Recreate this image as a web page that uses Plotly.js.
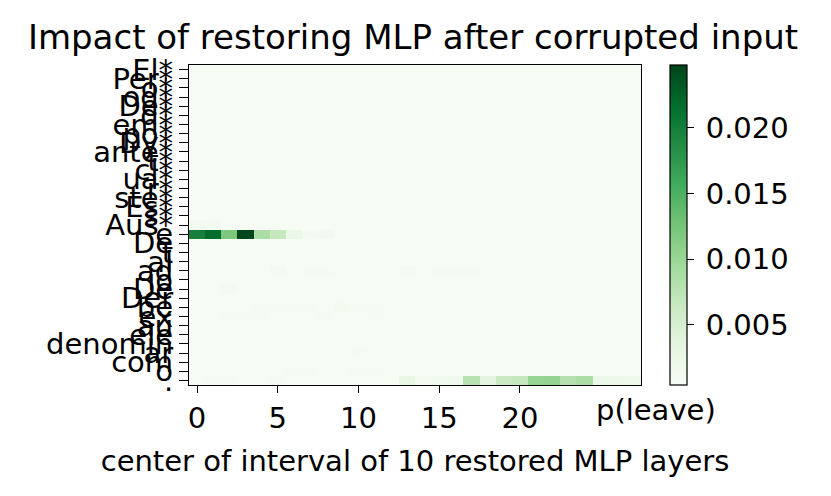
<!DOCTYPE html>
<html>
<head>
<meta charset="utf-8">
<script src="https://cdn.plot.ly/plotly-3.0.1.min.js"></script>
<style>
  body { margin: 0; background: #fff; }
  #chart { width: 831px; height: 496px; }
</style>
</head>
<body>
<div id="chart"></div>
<script>
// token labels, top to bottom (subject tokens carry a *)
const tokens = ['El*','Per*','o*','od*','De*','d*','em*','po*','Dy*','ante*','t*','cl*','ua*','r*','ste*','Es*','s*','Aus*',
  'e','De','t','al','ad','io','De','Der','be','ex','au','ele','denomin','ar','com','o','.'];
const layers = [0,1,2,3,4,5,6,7,8,9,10,11,12,13,14,15,16,17,18,19,20,21,22,23,24,25,26,27];
const cbTicks = [0.005, 0.010, 0.015, 0.020];
const cbLabels = ['0.005', '0.010', '0.015', '0.020'];

// p(leave) per token row and layer
const scores = [
  [.0005,.0005,.0005,.0005,.0005,.0005,.0005,.0005,.0005,.0005,.0005,.0005,.0005,.0005,.0005,.0005,.0005,.0005,.0005,.0005,.0005,.0005,.0005,.0005,.0005,.0005,.0005,.0005],
  [.0005,.0005,.0005,.0005,.0005,.0005,.0005,.0005,.0005,.0005,.0005,.0005,.0005,.0005,.0005,.0005,.0005,.0005,.0005,.0005,.0005,.0005,.0005,.0005,.0005,.0005,.0005,.0005],
  [.0005,.0005,.0005,.0005,.0005,.0005,.0005,.0005,.0005,.0005,.0005,.0005,.0005,.0005,.0005,.0005,.0005,.0005,.0005,.0005,.0005,.0005,.0005,.0005,.0005,.0005,.0005,.0005],
  [.0005,.0005,.0005,.0005,.0005,.0005,.0005,.0005,.0005,.0005,.0005,.0005,.0005,.0005,.0005,.0005,.0005,.0005,.0005,.0005,.0005,.0005,.0005,.0005,.0005,.0005,.0005,.0005],
  [.0005,.0005,.0005,.0005,.0005,.0005,.0005,.0005,.0005,.0005,.0005,.0005,.0005,.0005,.0005,.0005,.0005,.0005,.0005,.0005,.0005,.0005,.0005,.0005,.0005,.0005,.0005,.0005],
  [.0005,.0005,.0005,.0005,.0005,.0005,.0005,.0005,.0005,.0005,.0005,.0005,.0005,.0005,.0005,.0005,.0005,.0005,.0005,.0005,.0005,.0005,.0005,.0005,.0005,.0005,.0005,.0005],
  [.0005,.0005,.0005,.0005,.0005,.0005,.0005,.0005,.0005,.0005,.0005,.0005,.0005,.0005,.0005,.0005,.0005,.0005,.0005,.0005,.0005,.0005,.0005,.0005,.0005,.0005,.0005,.0005],
  [.0005,.0005,.0005,.0005,.0005,.0005,.0005,.0005,.0005,.0005,.0005,.0005,.0005,.0005,.0005,.0005,.0005,.0005,.0005,.0005,.0005,.0005,.0005,.0005,.0005,.0005,.0005,.0005],
  [.0005,.0005,.0005,.0005,.0005,.0005,.0005,.0005,.0005,.0005,.0005,.0005,.0005,.0005,.0005,.0005,.0005,.0005,.0005,.0005,.0005,.0005,.0005,.0005,.0005,.0005,.0005,.0005],
  [.0005,.0005,.0005,.0005,.0005,.0005,.0005,.0005,.0005,.0005,.0005,.0005,.0005,.0005,.0005,.0005,.0005,.0005,.0005,.0005,.0005,.0005,.0005,.0005,.0005,.0005,.0005,.0005],
  [.0005,.0005,.0005,.0005,.0005,.0005,.0005,.0005,.0005,.0005,.0005,.0005,.0005,.0005,.0005,.0005,.0005,.0005,.0005,.0005,.0005,.0005,.0005,.0005,.0005,.0005,.0005,.0005],
  [.0005,.0005,.0005,.0005,.0005,.0005,.0005,.0005,.0005,.0005,.0005,.0005,.0005,.0005,.0005,.0005,.0005,.0005,.0005,.0005,.0005,.0005,.0005,.0005,.0005,.0005,.0005,.0005],
  [.0005,.0005,.0005,.0005,.0005,.0005,.0005,.0005,.0005,.0005,.0005,.0005,.0005,.0005,.0005,.0005,.0005,.0005,.0005,.0005,.0005,.0005,.0005,.0005,.0005,.0005,.0005,.0005],
  [.0005,.0005,.0005,.0005,.0005,.0005,.0005,.0005,.0005,.0005,.0005,.0005,.0005,.0005,.0005,.0005,.0005,.0005,.0005,.0005,.0005,.0005,.0005,.0005,.0005,.0005,.0005,.0005],
  [.0005,.0005,.0005,.0005,.0005,.0005,.0005,.0005,.0005,.0005,.0005,.0005,.0005,.0005,.0005,.0005,.0005,.0005,.0005,.0005,.0005,.0005,.0005,.0005,.0005,.0005,.0005,.0005],
  [.0005,.0005,.0005,.0005,.0005,.0005,.0005,.0005,.0005,.0005,.0005,.0005,.0005,.0005,.0005,.0005,.0005,.0005,.0005,.0005,.0005,.0005,.0005,.0005,.0005,.0005,.0005,.0005],
  [.0005,.0005,.0005,.0005,.0005,.0005,.0005,.0005,.0005,.0005,.0005,.0005,.0005,.0005,.0005,.0005,.0005,.0005,.0005,.0005,.0005,.0005,.0005,.0005,.0005,.0005,.0005,.0005],
  [.0012,.0010,.0006,.0005,.0005,.0005,.0005,.0005,.0005,.0005,.0005,.0005,.0005,.0005,.0005,.0005,.0005,.0005,.0005,.0005,.0005,.0005,.0005,.0005,.0005,.0005,.0005,.0005],
  [.0199,.0216,.0120,.0246,.0087,.0067,.0024,.0010,.0012,.0006,.0005,.0005,.0005,.0005,.0005,.0005,.0005,.0005,.0005,.0005,.0005,.0005,.0005,.0005,.0005,.0005,.0005,.0005],
  [.0005,.0005,.0005,.0005,.0005,.0005,.0005,.0005,.0005,.0005,.0005,.0005,.0005,.0005,.0005,.0005,.0005,.0005,.0005,.0005,.0005,.0005,.0005,.0005,.0005,.0005,.0005,.0005],
  [.0005,.0005,.0005,.0005,.0005,.0005,.0005,.0005,.0005,.0005,.0005,.0005,.0005,.0005,.0005,.0005,.0005,.0005,.0005,.0005,.0005,.0005,.0005,.0005,.0005,.0005,.0005,.0005],
  [.0005,.0005,.0005,.0005,.0005,.0005,.0005,.0005,.0005,.0005,.0005,.0005,.0005,.0005,.0005,.0005,.0005,.0005,.0005,.0005,.0005,.0005,.0005,.0005,.0005,.0005,.0005,.0005],
  [.0005,.0005,.0005,.0005,.0005,.0010,.0005,.0009,.0009,.0005,.0005,.0005,.0005,.0010,.0005,.0009,.0009,.0009,.0005,.0005,.0005,.0005,.0005,.0005,.0005,.0005,.0005,.0005],
  [.0005,.0005,.0005,.0005,.0005,.0005,.0005,.0005,.0005,.0005,.0005,.0005,.0005,.0005,.0005,.0005,.0005,.0005,.0005,.0005,.0005,.0005,.0005,.0005,.0005,.0005,.0005,.0005],
  [.0005,.0005,.0010,.0005,.0005,.0005,.0005,.0005,.0005,.0005,.0005,.0005,.0005,.0005,.0005,.0005,.0005,.0005,.0005,.0005,.0005,.0005,.0005,.0005,.0005,.0005,.0005,.0005],
  [.0005,.0005,.0005,.0005,.0005,.0005,.0005,.0005,.0005,.0005,.0005,.0005,.0005,.0005,.0005,.0005,.0005,.0005,.0005,.0005,.0005,.0005,.0005,.0005,.0005,.0005,.0005,.0005],
  [.0005,.0005,.0005,.0005,.0009,.0009,.0009,.0009,.0005,.0010,.0009,.0009,.0005,.0005,.0005,.0005,.0005,.0005,.0005,.0005,.0005,.0005,.0005,.0005,.0005,.0005,.0005,.0005],
  [.0005,.0005,.0009,.0009,.0009,.0005,.0005,.0005,.0009,.0005,.0005,.0009,.0005,.0005,.0005,.0005,.0005,.0005,.0005,.0005,.0005,.0005,.0005,.0005,.0005,.0005,.0005,.0005],
  [.0005,.0005,.0005,.0005,.0005,.0005,.0005,.0005,.0005,.0005,.0005,.0005,.0005,.0005,.0005,.0005,.0005,.0005,.0005,.0005,.0005,.0005,.0005,.0005,.0005,.0005,.0005,.0005],
  [.0005,.0005,.0005,.0005,.0005,.0005,.0005,.0005,.0005,.0005,.0005,.0005,.0005,.0005,.0005,.0005,.0005,.0005,.0005,.0005,.0005,.0005,.0005,.0005,.0005,.0005,.0005,.0005],
  [.0005,.0005,.0005,.0005,.0005,.0005,.0005,.0005,.0005,.0005,.0005,.0005,.0005,.0005,.0005,.0005,.0005,.0005,.0005,.0005,.0005,.0005,.0005,.0005,.0005,.0005,.0005,.0005],
  [.0005,.0005,.0005,.0005,.0005,.0005,.0005,.0005,.0005,.0005,.0008,.0005,.0005,.0005,.0005,.0005,.0005,.0005,.0005,.0005,.0005,.0005,.0005,.0005,.0005,.0005,.0005,.0005],
  [.0005,.0005,.0005,.0005,.0005,.0005,.0005,.0005,.0005,.0005,.0005,.0005,.0005,.0005,.0005,.0005,.0005,.0005,.0005,.0005,.0005,.0005,.0005,.0005,.0005,.0005,.0005,.0005],
  [.0005,.0005,.0005,.0005,.0005,.0005,.0008,.0008,.0005,.0005,.0008,.0008,.0005,.0005,.0005,.0005,.0005,.0005,.0005,.0005,.0005,.0005,.0005,.0005,.0005,.0005,.0005,.0005],
  [.0006,.0009,.0009,.0006,.0006,.0008,.0006,.0006,.0006,.0006,.0006,.0006,.0006,.0028,.0010,.0014,.0016,.0077,.0036,.0062,.0066,.0102,.0104,.0080,.0087,.0022,.0020,.0018]
];

// matplotlib "Greens"
const greens = [
  [0, '#f7fcf5'], [0.125, '#e5f5e0'], [0.25, '#c7e9c0'], [0.375, '#a1d99b'],
  [0.5, '#74c476'], [0.625, '#41ab5d'], [0.75, '#238b45'], [0.875, '#006d2c'], [1, '#00441b']
];

const rows = tokens.map((t, i) => i);

const data = [{
  type: 'heatmap',
  x: layers,
  y: rows,
  z: scores,
  zmin: 0.0004,
  zmax: 0.0248,
  colorscale: greens,
  colorbar: {
    x: 1.042, xanchor: 'left', xref: 'paper',
    y: 0.5, yanchor: 'middle', len: 1, ypad: 0,
    thickness: 17,
    outlinewidth: 1.2, outlinecolor: '#000',
    ticks: 'outside', ticklen: 7, tickwidth: 1.2, tickcolor: '#000',
    tickvals: cbTicks, ticktext: cbLabels.map(s => '\u2009' + s),
    tickfont: {size: 29, color: '#000'}
  }
}];

const layout = {
  width: 831, height: 496,
  margin: {l: 189, r: 190, t: 65, b: 111},
  paper_bgcolor: '#fff', plot_bgcolor: '#fff',
  font: {family: 'DejaVu Sans', color: '#000', size: 29},
  title: {text: 'Impact of restoring MLP after corrupted input', x: 0.497, xanchor: 'center', y: 0.925, yanchor: 'middle', font: {size: 34}},
  xaxis: {
    range: [-0.5, 27.5],
    tickvals: [0, 5, 10, 15, 20],
    ticks: 'outside', ticklen: 7, tickwidth: 1.2, tickcolor: '#000',
    showline: true, mirror: true, linecolor: '#000', linewidth: 1.2,
    showgrid: false, zeroline: false,
    tickfont: {size: 29},
    title: {text: 'center of interval of 10 restored MLP layers', font: {size: 29}, standoff: 16}
  },
  yaxis: {
    range: [34.5, -0.5],
    tickvals: rows, ticktext: tokens,
    ticks: 'outside', ticklen: 9, tickwidth: 1.2, tickcolor: '#000',
    showline: true, mirror: true, linecolor: '#000', linewidth: 1.2,
    showgrid: false, zeroline: false,
    tickfont: {size: 29}
  },
  annotations: [{
    text: 'p(leave)', xref: 'paper', yref: 'paper',
    x: 1.033, y: -0.078, xanchor: 'center', yanchor: 'middle',
    showarrow: false, font: {size: 29}
  }]
};

Plotly.newPlot('chart', data, layout, {displayModeBar: false});
</script>
</body>
</html>
